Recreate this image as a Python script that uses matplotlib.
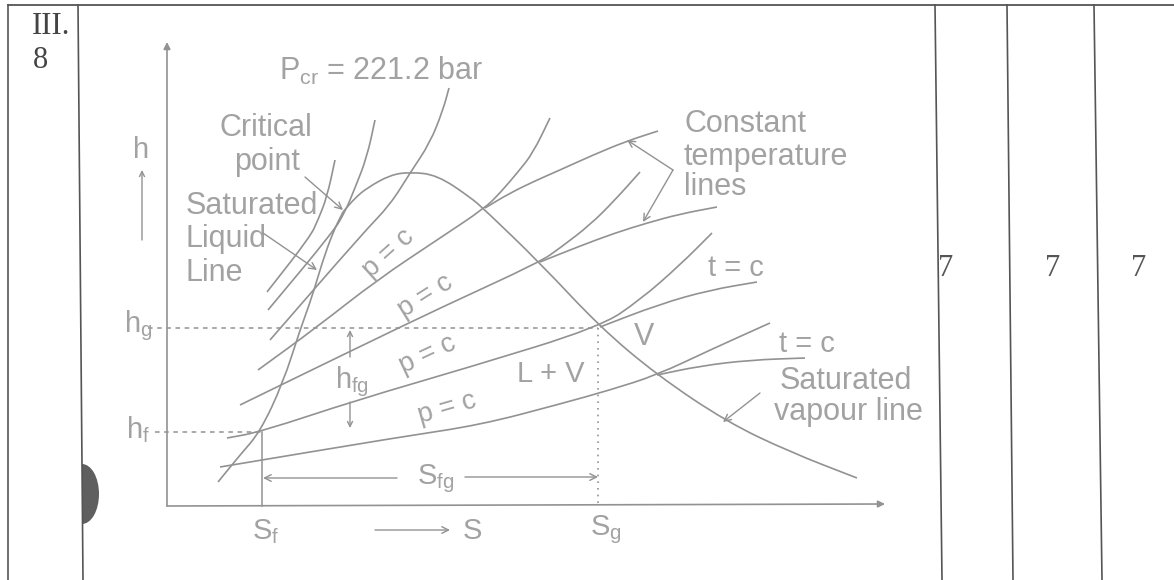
import numpy as np
import matplotlib
matplotlib.use("Agg")
import matplotlib.pyplot as plt
from matplotlib.path import Path
from matplotlib.patches import PathPatch, Ellipse, Rectangle

plt.rcParams["font.family"] = ["Liberation Sans", "DejaVu Sans"]
plt.rcParams["mathtext.fontset"] = "custom"
plt.rcParams["mathtext.rm"] = "Liberation Sans"
plt.rcParams["mathtext.it"] = "Liberation Sans"

# h-s (Mollier) sketch (x = s, y = h, page units)
sat_liquid = [(218, 482), (240, 455), (260, 432), (283, 383), (300, 330), (312, 297),
              (322, 263), (333, 232), (343, 212)]
sat_vapour = [(343, 212), (355, 198), (367, 188), (390, 175), (410, 172), (437, 175),
              (470, 197), (485, 210), (540, 263), (600, 327), (657, 375), (727, 422),
              (790, 452), (857, 478)]
p_critical = [(449, 88), (443, 110), (430, 143), (410, 173), (390, 205), (363, 233), (270, 340)]
liquid_a = [(335, 160), (327, 197), (318, 220), (310, 237), (267, 292)]
liquid_b = [(375, 120), (367, 157), (355, 188), (345, 212), (333, 232), (268, 310)]

isobars = [
    [(258, 370), (317, 327), (377, 280), (440, 238), (485, 208), (500, 193), (518, 172),
     (533, 153), (550, 118)],
    [(240, 405), (283, 384), (357, 348), (440, 308), (540, 262), (560, 248), (590, 225),
     (615, 200), (640, 172)],
    [(227, 438), (260, 432), (357, 400), (470, 367), (600, 327), (640, 300), (680, 265),
     (712, 233)],
    [(220, 467), (400, 437), (480, 425), (560, 404), (610, 390), (657, 375), (710, 350),
     (770, 323)],
]
isotherms = [
    [(485, 208), (510, 193), (537, 180), (560, 170), (593, 155), (627, 141), (658, 131)],
    [(540, 262), (580, 246), (615, 233), (647, 223), (680, 214), (717, 207)],
    [(600, 327), (660, 304), (710, 290), (757, 282)],
    [(657, 375), (700, 366), (750, 360), (805, 358)],
]
isobar_labels = ["p = c", "p = c", "p = c", "p = c"]
isobar_label_pos = [(388, 253), (425, 296), (427, 355), (447, 408)]
isobar_label_rot = [42, 32, 25, 16]

h_f, h_g = 432, 328
s_f, s_g = 262, 598

# answer-sheet table
col_lines = [(8, 8), (78, 83), (935, 942), (1007, 1013), (1094, 1102)]
marks = ["7", "7", "7"]
marks_x = [946, 1053, 1139]

LINE = "#929292"
TEXT = "#a2a2a2"
INK = "#444444"


def smooth(ax, pts, **kw):
    pts = np.asarray(pts, float)
    mids = (pts[:-1] + pts[1:]) / 2
    verts = [pts[0], mids[0]]
    codes = [Path.MOVETO, Path.LINETO]
    for i in range(1, len(pts) - 1):
        verts += [pts[i], mids[i]]
        codes += [Path.CURVE3, Path.CURVE3]
    verts.append(pts[-1])
    codes.append(Path.LINETO)
    ax.add_patch(PathPatch(Path(verts, codes), fill=False, **kw))


def arrow(ax, start, end, style="->", lw=1.0, scale=12):
    ax.annotate("", xy=end, xytext=start,
                arrowprops=dict(arrowstyle=style, color=LINE, lw=lw,
                                shrinkA=0, shrinkB=0, mutation_scale=scale))


fig = plt.figure(figsize=(11.74, 5.8), dpi=100)
ax = fig.add_axes([0, 0, 1, 1])
ax.set_xlim(0, 1174)
ax.set_ylim(580, 0)
ax.axis("off")

# table
ax.plot([8, 1174], [5, 5], color="#555555", lw=1.3)
for x_top, x_bot in col_lines:
    ax.plot([x_top, x_bot], [5, 580], color="#555555", lw=1.2)
ax.text(32, 27, "III.", fontsize=22, family="Liberation Serif", color=INK, va="center")
ax.text(33, 61, "8", fontsize=22, family="Liberation Serif", color=INK, va="center")
for m, x in zip(marks, marks_x):
    ax.text(x, 268, m, fontsize=22, family="Liberation Serif", color="#555555",
            ha="center", va="center")

# punch-hole shadow
blob = Ellipse((82, 494), 34, 60, color="#5f5f5f", lw=0)
ax.add_patch(blob)
blob.set_clip_path(Rectangle((82, 400), 60, 200, transform=ax.transData))

# axes of the diagram
arrow(ax, (167, 506), (167, 42), style="-|>", lw=1.2, scale=10)
arrow(ax, (167, 506), (885, 504), style="-|>", lw=1.2, scale=10)

# curves
lw = 1.2
smooth(ax, sat_liquid, color=LINE, lw=lw)
smooth(ax, sat_vapour, color=LINE, lw=lw)
smooth(ax, p_critical, color=LINE, lw=lw)
smooth(ax, liquid_a, color=LINE, lw=lw)
smooth(ax, liquid_b, color=LINE, lw=lw)
for line in isobars:
    smooth(ax, line, color=LINE, lw=lw)
for line in isotherms:
    smooth(ax, line, color=LINE, lw=lw)

# reference lines
ax.plot([148, s_g], [h_g, h_g], color=LINE, lw=1.1, ls=(0, (3, 3)))
ax.plot([155, s_f], [h_f, h_f], color=LINE, lw=1.1, ls=(0, (3, 3)))
ax.plot([s_g, s_g], [h_g, 505], color=LINE, lw=1.2, ls=(0, (1, 3)))
ax.plot([s_f, s_f], [h_f, 506], color=LINE, lw=1.1)

fs = 22
for lab, (x, y), rot in zip(isobar_labels, isobar_label_pos, isobar_label_rot):
    ax.text(x, y, lab, fontsize=19.5, color=TEXT, rotation=rot, rotation_mode="anchor",
            ha="center", va="center")

ax.text(279, 80, r"$P_{cr}$ = 221.2 bar", fontsize=fs, color=TEXT, va="baseline")
ax.text(266, 128, "Critical", fontsize=fs, color=TEXT, ha="center", va="center")
ax.text(267, 162, "point", fontsize=fs, color=TEXT, ha="center", va="center")
ax.text(186, 206, "Saturated", fontsize=fs, color=TEXT, va="center")
ax.text(186, 239, "Liquid", fontsize=fs, color=TEXT, va="center")
ax.text(186, 273, "Line", fontsize=fs, color=TEXT, va="center")
ax.text(684, 124, "Constant", fontsize=fs, color=TEXT, va="center")
ax.text(684, 157, "temperature", fontsize=fs, color=TEXT, va="center")
ax.text(684, 187, "lines", fontsize=fs, color=TEXT, va="center")
ax.text(846, 381, "Saturated", fontsize=fs, color=TEXT, ha="center", va="center")
ax.text(848, 412, "vapour line", fontsize=fs, color=TEXT, ha="center", va="center")
ax.text(644, 337, "V", fontsize=fs, color=TEXT, ha="center", va="center")
ax.text(551, 374, "L + V", fontsize=21, color=TEXT, ha="center", va="center")
ax.text(736, 268, "t = c", fontsize=21, color=TEXT, ha="center", va="center")
ax.text(807, 344, "t = c", fontsize=21, color=TEXT, ha="center", va="center")
ax.text(141, 150, "h", fontsize=21, color=TEXT, ha="center", va="center")
ax.text(138, 326, r"$h_g$", fontsize=21, color=TEXT, ha="center", va="center")
ax.text(138, 430, r"$h_f$", fontsize=21, color=TEXT, ha="center", va="center")
ax.text(352, 382, r"$h_{fg}$", fontsize=21, color=TEXT, ha="center", va="center")
ax.text(436, 479, r"$S_{fg}$", fontsize=21, color=TEXT, ha="center", va="center")
ax.text(266, 532, r"$S_f$", fontsize=21, color=TEXT, ha="center", va="center")
ax.text(472, 531, "S", fontsize=21, color=TEXT, ha="center", va="center")
ax.text(606, 530, r"$S_g$", fontsize=21, color=TEXT, ha="center", va="center")

# pointers
arrow(ax, (142, 240), (142, 170), scale=9)
arrow(ax, (305, 177), (343, 210))
arrow(ax, (263, 233), (317, 270))
arrow(ax, (673, 170), (627, 140))
arrow(ax, (673, 170), (643, 222))
arrow(ax, (760, 393), (723, 422))
arrow(ax, (350, 357), (350, 330), scale=9)
arrow(ax, (350, 402), (350, 428), scale=9)
arrow(ax, (397, 478), (263, 478))
arrow(ax, (465, 477), (598, 477))
arrow(ax, (375, 530), (450, 530))

fig.savefig("out.png", dpi=100, facecolor="white")
